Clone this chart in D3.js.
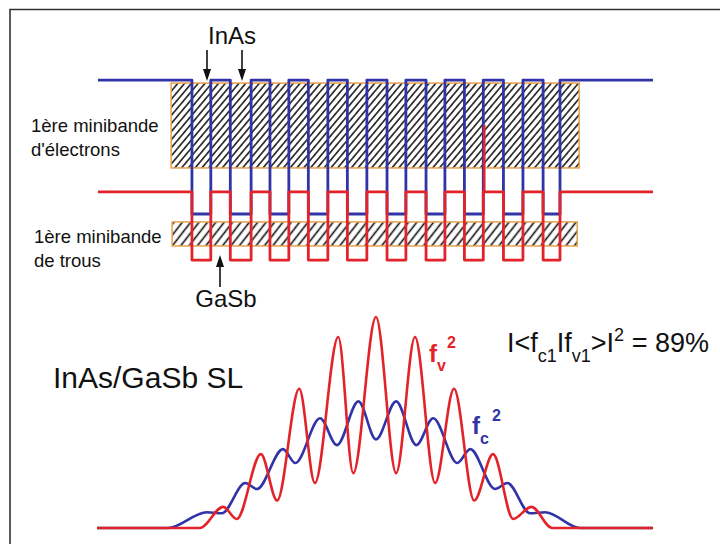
<!DOCTYPE html>
<html><head><meta charset="utf-8">
<script src="https://cdn.jsdelivr.net/npm/d3@7"></script>
<style>
body{margin:0;background:#fff}
svg{display:block}
text{font-family:"Liberation Sans",Arial,Helvetica,sans-serif}
</style>
</head><body>
<svg id="c" width="720" height="544"></svg>
<script>
// ---------- data (positions in nm, energies in eV, densities normalised) ----------
const wellStart = [14.6, 20.5, 26.6, 32.5, 38.5, 44.6, 50.6, 56.5, 62.5, 68.6]; // InAs layers start
const wellEnd   = [17.5, 23.7, 29.5, 35.5, 41.5, 47.5, 53.5, 59.4, 65.5, 71.2]; // InAs layers end
const zRange    = [0.15, 85.5];
const cbLevels  = [0.893, 0.0];    // [GaSb CB, InAs CB]
const vbLevels  = [0.147, -0.307]; // [GaSb VB, InAs VB]
const miniZ     = [[11.4, 74.15], [11.55, 73.85]];   // electron / hole minibands
const miniE     = [[0.873, 0.307], [-0.053, -0.213]];
const glitchZ   = 59.55, glitchE = [0.593, 0.147];

const fvZ   = [0, 15.8, 19.4, 21.5, 25.2, 27.7, 31.1, 33.5, 37.1, 39.4, 42.9, 46.0, 48.9, 52.0, 54.9, 58.0, 60.9, 64.0, 66.8, 70.0, 85.5];
const fvVal = [0, 0, 0.10, 0.043, 0.35, 0.13, 0.66, 0.213, 0.905, 0.26, 1.0, 0.26, 0.905, 0.213, 0.66, 0.13, 0.35, 0.043, 0.10, 0, 0];
const fcZ   = [0, 10.9, 16.9, 19.2, 22.8, 24.6, 28.6, 30.5, 34.3, 36.9, 40.2, 42.9, 46.0, 49.1, 51.7, 55.4, 57.4, 61.2, 63.1, 66.6, 68.9, 74.3, 85.5];
const fcVal = [0, 0, 0.075, 0.07, 0.213, 0.185, 0.374, 0.308, 0.52, 0.393, 0.60, 0.42, 0.60, 0.393, 0.52, 0.308, 0.374, 0.185, 0.213, 0.07, 0.075, 0, 0];

const BLUE = "#3134a6", RED = "#e2232a", ORANGE = "#e8a24c";

// ---------- scales ----------
const svg = d3.select("#c");
const x = d3.scaleLinear().domain([0, 85.5]).range([97, 653]);
const yE = d3.scaleLinear().domain([-0.4, 1.0]).range([274, 64]);
const yD = d3.scaleLinear().domain([0, 1]).range([528, 317]);

// frame
svg.append("path").attr("d", "M10,544V9.5H720").attr("fill", "none").attr("stroke", "#333").attr("stroke-width", 1.6);

// hatch patterns
const defs = svg.append("defs");
function hatch(id, sp, ang, w) {
  const p = defs.append("pattern").attr("id", id).attr("patternUnits", "userSpaceOnUse")
    .attr("width", sp).attr("height", sp).attr("patternTransform", `rotate(${ang})`);
  p.append("line").attr("x1", sp / 2).attr("x2", sp / 2).attr("y1", 0).attr("y2", sp)
    .attr("stroke", "#111").attr("stroke-width", w);
}
hatch("h1", 5.2, 40, 1.5);
hatch("h2", 6.6, 38, 1.6);

// minibands
svg.selectAll("rect.mb").data(miniZ).join("rect")
  .attr("x", d => x(d[0]))
  .attr("y", (d, i) => yE(miniE[i][0]))
  .attr("width", d => x(d[1]) - x(d[0]))
  .attr("height", (d, i) => yE(miniE[i][1]) - yE(miniE[i][0]))
  .attr("fill", (d, i) => i === 0 ? "url(#h1)" : "url(#h2)")
  .attr("stroke", ORANGE).attr("stroke-width", 1.5);

// band edges
function bandPts(levels) {
  const pts = [[zRange[0], levels[0]]];
  wellStart.forEach((s, i) => { pts.push([s, levels[1]]); pts.push([wellEnd[i], levels[0]]); });
  pts.push([zRange[1], levels[0]]);
  return pts;
}
const stepLine = d3.line().x(d => x(d[0])).y(d => yE(d[1])).curve(d3.curveStepAfter);
svg.append("path").attr("d", stepLine(bandPts(cbLevels))).attr("fill", "none")
  .attr("stroke", BLUE).attr("stroke-width", 2.8).attr("stroke-linejoin", "round");
svg.append("path").attr("d", stepLine(bandPts(vbLevels))).attr("fill", "none")
  .attr("stroke", RED).attr("stroke-width", 2.8).attr("stroke-linejoin", "round");
svg.append("line").attr("x1", x(glitchZ)).attr("x2", x(glitchZ))
  .attr("y1", yE(glitchE[0])).attr("y2", yE(glitchE[1])).attr("stroke", RED).attr("stroke-width", 2.6);

// arrows
function arrow(xp, y0, y1) {
  const dir = y1 > y0 ? 1 : -1;
  svg.append("line").attr("x1", xp).attr("x2", xp).attr("y1", y0).attr("y2", y1 - dir * 10)
    .attr("stroke", "#111").attr("stroke-width", 1.6);
  svg.append("path").attr("d", `M${xp},${y1}L${xp - 4},${y1 - dir * 12}L${xp + 4},${y1 - dir * 12}Z`).attr("fill", "#111");
}
arrow(207, 50, 81);
arrow(242, 50, 81);
arrow(220, 287, 255);

// labels
const T = (tx, ty, s, size, opts = {}) => svg.append("text").attr("x", tx).attr("y", ty)
  .attr("font-size", size).attr("fill", opts.fill || "#111").attr("text-anchor", opts.anchor || "start")
  .attr("font-weight", opts.weight || "normal").text(s);
T(232, 44, "InAs", 24, {anchor: "middle"});
T(226, 307, "GaSb", 24, {anchor: "middle"});
T(31, 132, "1ère minibande", 18.5);
T(31, 156, "d'électrons", 18.5);
T(34, 243, "1ère minibande", 18.5);
T(34, 267, "de trous", 18.5);
T(53, 388, "InAs/GaSb SL", 30);

// overlap integral
const eq = svg.append("text").attr("x", 507).attr("y", 352).attr("font-size", 27).attr("fill", "#111");
eq.append("tspan").text("I<f");
eq.append("tspan").attr("font-size", 18).attr("dy", 10).text("c1");
eq.append("tspan").attr("dy", -10).text("If");
eq.append("tspan").attr("font-size", 18).attr("dy", 10).text("v1");
eq.append("tspan").attr("dy", -10).text(">I");
eq.append("tspan").attr("font-size", 18).attr("dy", -11).text("2");
eq.append("tspan").attr("dy", 11).text(" = 89%");

// density curves
const dLine = d3.line().x(d => x(d[0])).y(d => yD(d[1])).curve(d3.curveMonotoneX);
svg.append("path").attr("d", dLine(fcZ.map((z, i) => [z, fcVal[i]]))).attr("fill", "none")
  .attr("stroke", BLUE).attr("stroke-width", 2.6);
svg.append("path").attr("d", dLine(fvZ.map((z, i) => [z, fvVal[i]]))).attr("fill", "none")
  .attr("stroke", RED).attr("stroke-width", 2.6);

// curve labels
const fv = svg.append("text").attr("x", 429).attr("y", 362).attr("font-size", 24).attr("font-weight", "bold").attr("fill", RED);
fv.append("tspan").text("f");
fv.append("tspan").attr("font-size", 16).attr("dy", 9).text("v");
fv.append("tspan").attr("font-size", 16).attr("dx", 1).attr("dy", -23).text("2");
const fc = svg.append("text").attr("x", 472).attr("y", 434).attr("font-size", 24).attr("font-weight", "bold").attr("fill", BLUE);
fc.append("tspan").text("f");
fc.append("tspan").attr("font-size", 16).attr("dy", 10).text("c");
fc.append("tspan").attr("font-size", 16).attr("dx", 3).attr("dy", -23).text("2");
</script>
</body></html>
